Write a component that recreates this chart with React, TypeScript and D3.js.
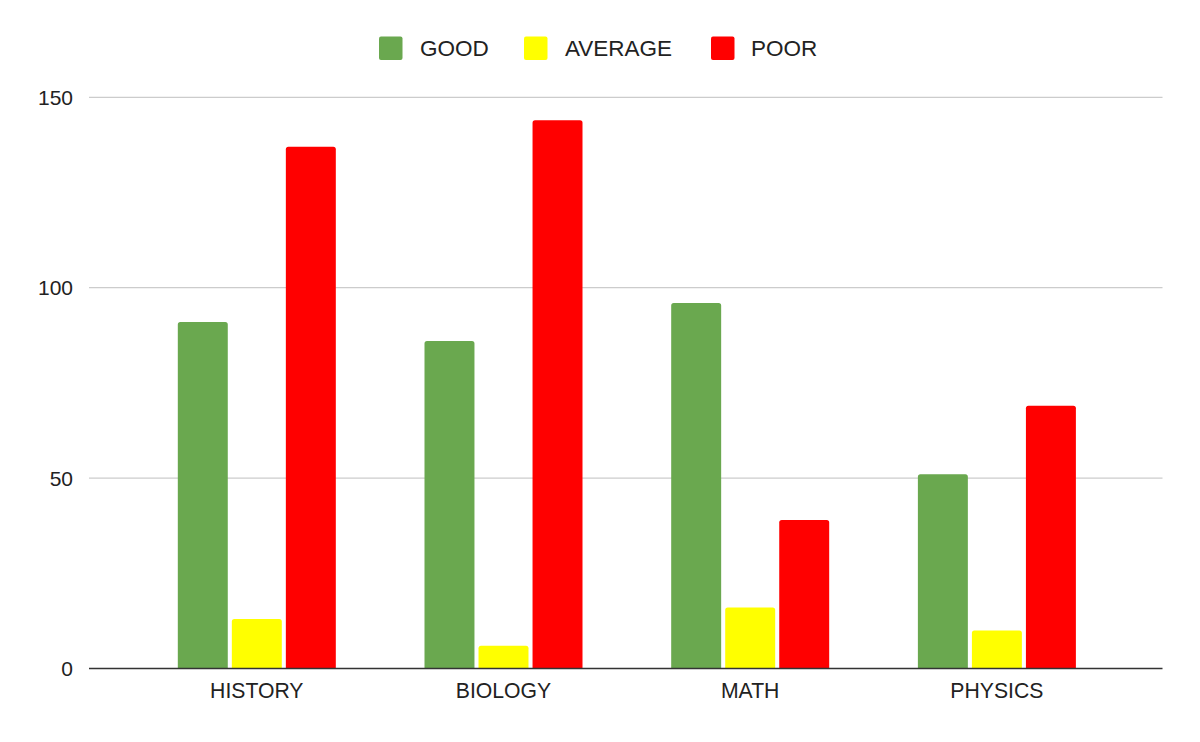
import React from "react";
import * as d3 from "d3";

const categories = ["HISTORY", "BIOLOGY", "MATH", "PHYSICS"];
const seriesNames = ["GOOD", "AVERAGE", "POOR"];
const seriesColors = ["#6aa84f", "#ffff00", "#ff0000"];
const goodValues = [91, 86, 96, 51];
const averageValues = [13, 6, 16, 10];
const poorValues = [137, 144, 39, 69];
const yTicks = [0, 50, 100, 150];

const W = 1200;
const H = 742;
const FONT = "'Liberation Sans', Arial, Helvetica, sans-serif";

function topRoundedRect(x: number, y: number, w: number, h: number, r: number) {
  const rr = Math.min(r, h, w / 2);
  const p = d3.path();
  p.moveTo(x, y + h);
  p.lineTo(x, y + rr);
  p.arcTo(x, y, x + rr, y, rr);
  p.lineTo(x + w - rr, y);
  p.arcTo(x + w, y, x + w, y + rr, rr);
  p.lineTo(x + w, y + h);
  p.closePath();
  return p.toString();
}

export default function App() {
  const series = [goodValues, averageValues, poorValues];
  const left = 89;
  const right = 1162.5;
  const y = d3.scaleLinear().domain([0, 150]).range([668.5, 97.3]);
  const x0 = d3
    .scaleBand<string>()
    .domain(categories)
    .range([left, 1164.7])
    .paddingInner(0.3595)
    .paddingOuter(0.36);
  const x1 = d3
    .scaleBand<string>()
    .domain(seriesNames)
    .range([0, x0.bandwidth()])
    .paddingInner(0.075);

  const legendX = [379, 524, 711];
  const textX = [420, 565, 751];

  return (
    <svg
      width={W}
      height={H}
      style={{ position: "absolute", left: 0, top: 0, background: "#fff" }}
      fontFamily={FONT}
    >
      <rect x={0} y={0} width={W} height={H} fill="#fff" />
      {/* legend */}
      {seriesNames.map((s, i) => (
        <g key={s}>
          <rect x={legendX[i]} y={36.5} width={23.5} height={23.5} rx={2} fill={seriesColors[i]} />
          <text x={textX[i]} y={55.5} fontSize={22.5} fill="#222">
            {s}
          </text>
        </g>
      ))}
      {/* gridlines */}
      {yTicks.map((t) =>
        t === 0 ? null : (
          <line key={t} x1={left} x2={right} y1={y(t)} y2={y(t)} stroke="#cccccc" strokeWidth={1.3} />
        )
      )}
      {/* y tick labels */}
      {yTicks.map((t) => (
        <text key={t} x={73} y={y(t) + 7.5} fontSize={21} textAnchor="end" fill="#222">
          {t}
        </text>
      ))}
      {/* bars */}
      {categories.map((c, ci) => (
        <g key={c} transform={`translate(${x0(c)},0)`}>
          {seriesNames.map((s, si) => {
            const v = series[si][ci];
            const bx = x1(s)!;
            const by = y(v);
            return (
              <path
                key={s}
                d={topRoundedRect(bx, by, x1.bandwidth(), y(0) - by, 2.5)}
                fill={seriesColors[si]}
              />
            );
          })}
        </g>
      ))}
      {/* x axis */}
      <line x1={left} x2={right} y1={y(0)} y2={y(0)} stroke="#333333" strokeWidth={1.5} />
      {categories.map((c) => (
        <text
          key={c}
          x={x0(c)! + x0.bandwidth() / 2}
          y={697.5}
          fontSize={21.2}
          textAnchor="middle"
          fill="#222"
        >
          {c}
        </text>
      ))}
    </svg>
  );
}
